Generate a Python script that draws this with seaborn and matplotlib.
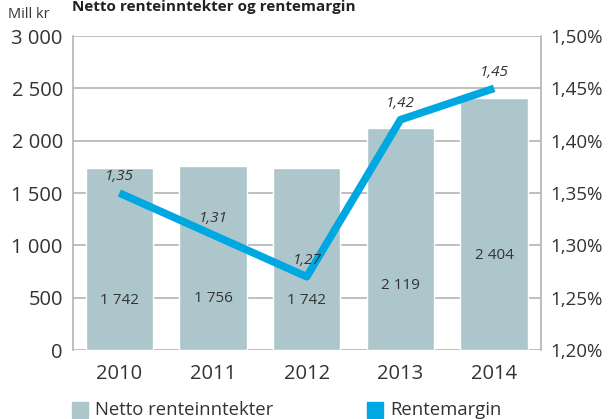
import matplotlib
matplotlib.use("Agg")
import matplotlib.pyplot as plt
import seaborn as sns
import pandas as pd

years = ["2010", "2011", "2012", "2013", "2014"]
netto = [1742, 1756, 1742, 2119, 2404]
netto_labels = ["1 742", "1 756", "1 742", "2 119", "2 404"]
margin = [1.35, 1.31, 1.27, 1.42, 1.45]
margin_labels = ["1,35", "1,31", "1,27", "1,42", "1,45"]
left_ticks = [0, 500, 1000, 1500, 2000, 2500, 3000]
left_ticklabels = ["0", "500", "1 000", "1 500", "2 000", "2 500", "3 000"]
right_ticks = [1.20, 1.25, 1.30, 1.35, 1.40, 1.45, 1.50]
right_ticklabels = ["1,20%", "1,25%", "1,30%", "1,35%", "1,40%", "1,45%", "1,50%"]

# layout: vertical positions (in left-axis units) of the bar value labels
label_pos = [470, 489, 470, 613, 900]

sns.set_theme(style="white")
plt.rcParams["font.family"] = ["Open Sans", "DejaVu Sans"]

bar_color = "#adc6cc"
line_color = "#00a8e1"
text_color = "#333333"
grid_color = "#b4b4b4"

W, H = 612, 419
df = pd.DataFrame({"year": years, "netto": netto, "margin": margin})

fig = plt.figure(figsize=(W / 100, H / 100), dpi=100)
ax = fig.add_axes([72.5 / W, 1 - 350 / H, (541 - 72.5) / W, (350 - 36) / H])

sns.barplot(data=df, x="year", y="netto", color=bar_color, width=0.72,
            saturation=1, ax=ax, zorder=2)
ax.set_ylim(0, 3000)
ax.set_xlim(-0.5, 4.5)
ax.set_yticks(left_ticks)
ax.set_yticklabels(left_ticklabels, fontsize=14.5, color=text_color)
ax.set_xlabel("")
ax.set_ylabel("")
ax.tick_params(axis="x", labelsize=14.5, colors=text_color, length=0, pad=10)
ax.tick_params(axis="y", length=0, pad=7)
for yv in left_ticks:
    ax.axhline(yv, color=grid_color, lw=1.2, zorder=1)
for s in ["top", "bottom"]:
    ax.spines[s].set_visible(False)
for s in ["left", "right"]:
    ax.spines[s].set_color(grid_color)
    ax.spines[s].set_linewidth(1.2)

for i, lab in enumerate(netto_labels):
    ax.text(i, label_pos[i], lab, ha="center", va="center", fontsize=11,
            color=text_color, zorder=5)

ax2 = ax.twinx()
sns.lineplot(x=list(range(len(years))), y=margin, color=line_color, lw=5.5,
             ax=ax2, zorder=4, solid_capstyle="butt")
ax2.set_ylim(1.20, 1.50)
ax2.set_yticks(right_ticks)
ax2.set_yticklabels(right_ticklabels, fontsize=13.5, color=text_color)
ax2.tick_params(axis="y", length=0, pad=7)
for s in ax2.spines.values():
    s.set_visible(False)
ax2.grid(False)
for i, (v, lab) in enumerate(zip(margin, margin_labels)):
    ax2.text(i, v + 0.0155, lab, ha="center", va="center", fontsize=11,
             style="italic", color=text_color, zorder=6)

fig.text(8 / W, 1 - 15 / H, "Mill kr", fontsize=10.5, color=text_color,
         va="center", ha="left")
fig.text(72 / W, 1 - 7 / H, "Netto renteinntekter og rentemargin", fontsize=11,
         fontweight="bold", color="#222222", va="center", ha="left")

# legend
fig.patches.append(plt.Rectangle((72 / W, 1 - 418 / H), 16 / W, 16 / H,
                                 transform=fig.transFigure, color=bar_color))
fig.patches.append(plt.Rectangle((367 / W, 1 - 418 / H), 16 / W, 16 / H,
                                 transform=fig.transFigure, color=line_color))
fig.text(95 / W, 1 - 410 / H, "Netto renteinntekter", fontsize=13.3,
         color=text_color, va="center")
fig.text(390 / W, 1 - 410 / H, "Rentemargin", fontsize=13.3,
         color=text_color, va="center")

fig.savefig("out.png", dpi=100)
